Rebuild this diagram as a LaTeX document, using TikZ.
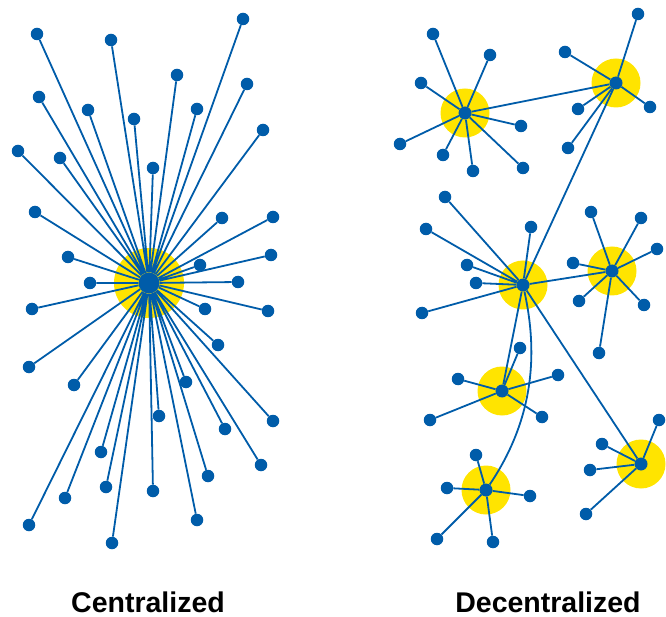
\documentclass[tikz,border=0pt]{standalone}
\usepackage{fontspec}
\usepackage{xcolor}
\usepackage{tikz}
\usetikzlibrary{shapes.geometric}
\newfontfamily\labelfont{Liberation Sans}
\definecolor{netblue}{RGB}{0,92,169}
\definecolor{hubyellow}{RGB}{255,228,0}
\tikzstyle{leaf} = [circle, fill=netblue, inner sep=0pt, minimum size=12.5pt]
\tikzstyle{hub} = [circle, fill=netblue, inner sep=0pt, minimum size=13pt]
\tikzstyle{bighub} = [circle, fill=netblue, inner sep=0pt, minimum size=21pt]
\tikzstyle{halo} = [circle, fill=hubyellow, inner sep=0pt, minimum size=49pt]
\tikzstyle{bighalo} = [halo, minimum size=70pt]
\tikzstyle{link} = [netblue, line width=1.8pt]
\tikzstyle{caption} = [anchor=base, inner sep=0pt, font=\labelfont\bfseries\fontsize{28.5}{32}\selectfont]

\begin{document}
\begin{tikzpicture}[x=1pt, y=-1pt]
    \useasboundingbox (0,0) rectangle (666,617);

    % yellow rings behind the hubs
    \node (halo) [bighalo] at (149,283) {};
    \node (haloa) [halo] at (465,113) {};
    \node (halob) [halo] at (616,83) {};
    \node (haloc) [halo] at (523,285) {};
    \node (halod) [halo] at (612,271) {};
    \node (haloe) [halo] at (502,391) {};
    \node (halof) [halo] at (486,490) {};
    \node (halog) [halo] at (641,464) {};

    % centralized
    \node (hub) [bighub] at (149,283) {};
    \node (c1) [leaf] at (37,34) {};   \node (c2) [leaf] at (111,40) {};  \node (c3) [leaf] at (243,19) {};
    \node (c4) [leaf] at (177,75) {};  \node (c5) [leaf] at (247,84) {};  \node (c6) [leaf] at (39,97) {};
    \node (c7) [leaf] at (88,110) {};  \node (c8) [leaf] at (134,119) {}; \node (c9) [leaf] at (197,109) {};
    \node (c10) [leaf] at (263,130) {}; \node (c11) [leaf] at (18,151) {}; \node (c12) [leaf] at (60,158) {};
    \node (c13) [leaf] at (153,168) {}; \node (c14) [leaf] at (35,212) {}; \node (c15) [leaf] at (222,218) {};
    \node (c16) [leaf] at (273,217) {}; \node (c17) [leaf] at (68,257) {}; \node (c18) [leaf] at (200,265) {};
    \node (c19) [leaf] at (271,255) {}; \node (c20) [leaf] at (90,283) {}; \node (c21) [leaf] at (238,282) {};
    \node (c22) [leaf] at (32,309) {}; \node (c23) [leaf] at (205,309) {}; \node (c24) [leaf] at (268,311) {};
    \node (c25) [leaf] at (29,367) {}; \node (c26) [leaf] at (218,345) {}; \node (c27) [leaf] at (74,385) {};
    \node (c28) [leaf] at (186,382) {}; \node (c29) [leaf] at (159,416) {}; \node (c30) [leaf] at (273,421) {};
    \node (c31) [leaf] at (225,429) {}; \node (c32) [leaf] at (101,452) {}; \node (c33) [leaf] at (261,465) {};
    \node (c34) [leaf] at (208,476) {}; \node (c35) [leaf] at (65,498) {}; \node (c36) [leaf] at (106,487) {};
    \node (c37) [leaf] at (153,491) {}; \node (c38) [leaf] at (197,520) {}; \node (c39) [leaf] at (29,525) {};
    \node (c40) [leaf] at (112,543) {};

    \draw [link] (hub) -- (c1) (hub) -- (c2) (hub) -- (c3) (hub) -- (c4) (hub) -- (c5)
        (hub) -- (c6) (hub) -- (c7) (hub) -- (c8) (hub) -- (c9) (hub) -- (c10)
        (hub) -- (c11) (hub) -- (c12) (hub) -- (c13) (hub) -- (c14) (hub) -- (c15)
        (hub) -- (c16) (hub) -- (c17) (hub) -- (c18) (hub) -- (c19) (hub) -- (c20)
        (hub) -- (c21) (hub) -- (c22) (hub) -- (c23) (hub) -- (c24) (hub) -- (c25)
        (hub) -- (c26) (hub) -- (c27) (hub) -- (c28) (hub) -- (c29) (hub) -- (c30)
        (hub) -- (c31) (hub) -- (c32) (hub) -- (c33) (hub) -- (c34) (hub) -- (c35)
        (hub) -- (c36) (hub) -- (c37) (hub) -- (c38) (hub) -- (c39) (hub) -- (c40);

    % decentralized
    \node (ha) [hub] at (465,113) {};
    \node (hb) [hub] at (616,83) {};
    \node (hc) [hub] at (523,285) {};
    \node (hd) [hub] at (612,271) {};
    \node (he) [hub] at (502,391) {};
    \node (hf) [hub] at (486,490) {};
    \node (hg) [hub] at (641,464) {};

    \node (a1) [leaf] at (433,34) {};  \node (a2) [leaf] at (490,55) {};  \node (a3) [leaf] at (421,83) {};
    \node (a4) [leaf] at (521,126) {}; \node (a5) [leaf] at (400,144) {}; \node (a6) [leaf] at (443,155) {};
    \node (a7) [leaf] at (473,171) {}; \node (a8) [leaf] at (523,168) {};
    \node (b1) [leaf] at (638,14) {};  \node (b2) [leaf] at (565,52) {};  \node (b3) [leaf] at (578,109) {};
    \node (b4) [leaf] at (650,107) {}; \node (b5) [leaf] at (568,148) {};
    \node (c1x) [leaf] at (445,197) {}; \node (c2x) [leaf] at (426,229) {}; \node (c3x) [leaf] at (531,227) {};
    \node (c4x) [leaf] at (467,265) {}; \node (c5x) [leaf] at (476,283) {}; \node (c6x) [leaf] at (422,313) {};
    \node (d1) [leaf] at (591,212) {}; \node (d2) [leaf] at (641,218) {}; \node (d3) [leaf] at (657,249) {};
    \node (d4) [leaf] at (573,263) {}; \node (d5) [leaf] at (579,301) {}; \node (d6) [leaf] at (644,305) {};
    \node (d7) [leaf] at (599,353) {};
    \node (e1) [leaf] at (520,348) {}; \node (e2) [leaf] at (458,379) {}; \node (e3) [leaf] at (558,375) {};
    \node (e4) [leaf] at (430,420) {}; \node (e5) [leaf] at (542,417) {};
    \node (f1) [leaf] at (476,455) {}; \node (f2) [leaf] at (447,488) {}; \node (f3) [leaf] at (530,496) {};
    \node (f4) [leaf] at (437,539) {}; \node (f5) [leaf] at (493,542) {};
    \node (g1) [leaf] at (659,420) {}; \node (g2) [leaf] at (602,444) {}; \node (g3) [leaf] at (590,470) {};
    \node (g4) [leaf] at (586,514) {};

    \draw [link] (ha) -- (a1) (ha) -- (a2) (ha) -- (a3) (ha) -- (a4) (ha) -- (a5) (ha) -- (a6) (ha) -- (a7) (ha) -- (a8);
    \draw [link] (hb) -- (b1) (hb) -- (b2) (hb) -- (b3) (hb) -- (b4) (hb) -- (b5);
    \draw [link] (hc) -- (c1x) (hc) -- (c2x) (hc) -- (c3x) (hc) -- (c4x) (hc) -- (c5x) (hc) -- (c6x);
    \draw [link] (hd) -- (d1) (hd) -- (d2) (hd) -- (d3) (hd) -- (d4) (hd) -- (d5) (hd) -- (d6) (hd) -- (d7);
    \draw [link] (he) -- (e1) (he) -- (e2) (he) -- (e3) (he) -- (e4) (he) -- (e5);
    \draw [link] (hf) -- (f1) (hf) -- (f2) (hf) -- (f3) (hf) -- (f4) (hf) -- (f5);
    \draw [link] (hg) -- (g1) (hg) -- (g2) (hg) -- (g3) (hg) -- (g4);

    \draw [link] (ha) -- (hb);
    \draw [link] (hb) -- (hc);
    \draw [link] (hc) -- (hd);
    \draw [link] (hc) -- (he);
    \draw [link] (hc) -- (hg);
    \draw [link] (hc) .. controls (535,340) and (540,410) .. (hf);

    \node (central) [caption] at (148,612) {Centralized};
    \node (decentral) [caption] at (548,612) {Decentralized};
\end{tikzpicture}
\end{document}
